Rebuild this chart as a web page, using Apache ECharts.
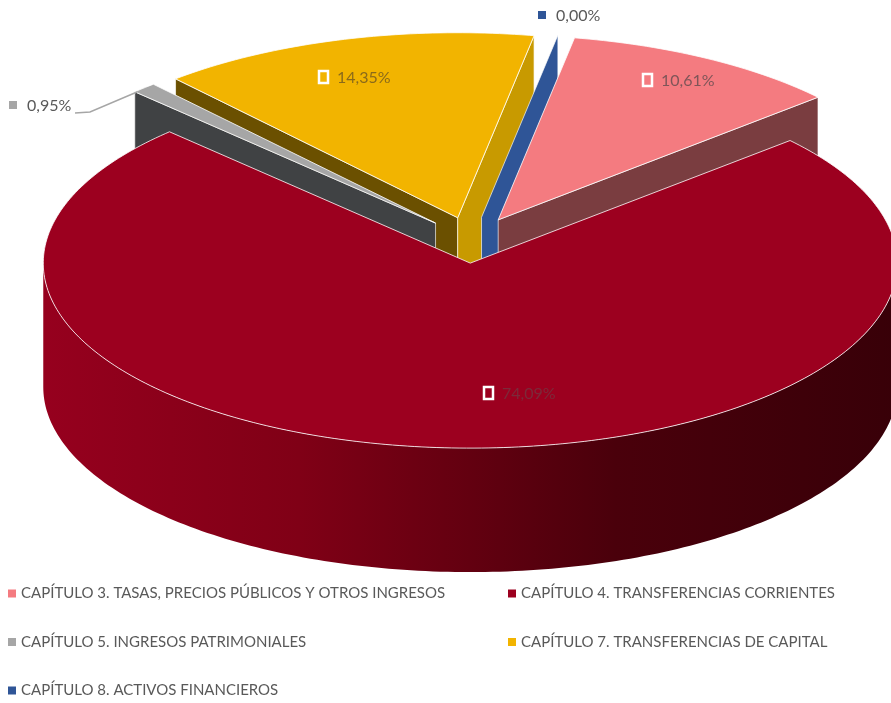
<!DOCTYPE html>
<html>
<head>
<meta charset="utf-8">
<title>Capítulos</title>
<script src="https://cdn.jsdelivr.net/npm/echarts@6/dist/echarts.min.js"></script>
<style>
    html, body { margin: 0; padding: 0; background: #fff; }
    #main { width: 891px; height: 703px; }
</style>
</head>
<body>
<div id="main"></div>
<script>
var categories = [
    'CAPÍTULO 3. TASAS, PRECIOS PÚBLICOS Y OTROS INGRESOS',
    'CAPÍTULO 4. TRANSFERENCIAS CORRIENTES',
    'CAPÍTULO 5. INGRESOS PATRIMONIALES',
    'CAPÍTULO 7. TRANSFERENCIAS DE CAPITAL',
    'CAPÍTULO 8. ACTIVOS FINANCIEROS'
];
var values = [10.61, 74.09, 0.95, 14.35, 0.00];

var topColors = ['#F47B80', '#9C001F', '#A6A6A6', '#F2B400', '#2F5597'];
var wallStart = ['#7A3D40', '#4E0010', '#404244', '#6B5000', '#1F3864'];
var wallEnd = ['#7A3D40', '#4E0010', '#404244', '#C89A00', '#2F5597'];
var labelColors = ['#7F5558', '#7C2A3A', '#595959', '#8A6A1A', '#595959'];
var drawOrder = [3, 2, 4, 0, 1];

// layout of the pie, in pixels
var centerX = 472, centerY = 240;
var radiusX = 427, radiusY = 185, depth = 124, explode = 0.125;
var firstAngle = 10.3;
var labelPos = [[647, 80], [488, 393], [13, 105], [323, 77], [542, 15]];
var labelFont = 'Lato';

function sliceAngles(index) {
    var total = values.reduce(function (a, b) { return a + b; }, 0);
    var start = firstAngle;
    for (var i = 0; i < index; i++) {
        start += values[i] / total * 360;
    }
    return [start, start + values[index] / total * 360];
}

function onEllipse(cx, cy, deg) {
    var r = deg * Math.PI / 180;
    return [cx + radiusX * Math.sin(r), cy - radiusY * Math.cos(r)];
}

function wallFor(apex, rim) {
    return [apex, rim, [rim[0], rim[1] + depth], [apex[0], apex[1] + depth]];
}

function renderSlice(params, api) {
    var index = params.seriesIndex;
    var angles = sliceAngles(index);
    var a = angles[0], b = angles[1];
    var mid = (a + b) / 2 * Math.PI / 180;
    var cx = centerX + radiusX * explode * Math.sin(mid);
    var cy = centerY - radiusY * explode * Math.cos(mid);
    var edgeStyle = { stroke: 'rgba(255,255,255,0.65)', lineWidth: 1 };
    var children = [];

    // outer side, only the front half of the ellipse can be seen
    var from = Math.max(a, 90), to = Math.min(b, 270);
    if (to > from) {
        var front = [], back = [];
        for (var t = from; t <= to; t += 1) {
            var p = onEllipse(cx, cy, t);
            front.push(p);
            back.unshift([p[0], p[1] + depth]);
        }
        children.push({
            type: 'polygon',
            shape: { points: front.concat(back) },
            style: {
                fill: new echarts.graphic.LinearGradient(0, 0, 1, 0, [
                    { offset: 0, color: '#96001E' },
                    { offset: 0.3, color: '#800016' },
                    { offset: 0.67, color: '#4A000B' },
                    { offset: 1, color: '#380008' }
                ])
            }
        });
    }

    var apex = [cx, cy];
    if (Math.sin(a * Math.PI / 180) < 0) {
        children.push({
            type: 'polygon',
            shape: { points: wallFor(apex, onEllipse(cx, cy, a)) },
            style: Object.assign({ fill: wallStart[index] }, edgeStyle)
        });
    }
    if (Math.sin(b * Math.PI / 180) > 0) {
        children.push({
            type: 'polygon',
            shape: { points: wallFor(apex, onEllipse(cx, cy, b)) },
            style: Object.assign({ fill: wallEnd[index] }, edgeStyle)
        });
    }

    // top face
    if (api.value(0) > 0) {
        var pts = [apex];
        for (var s = a; s < b; s += 1) {
            pts.push(onEllipse(cx, cy, s));
        }
        pts.push(onEllipse(cx, cy, b));
        children.push({
            type: 'polygon',
            shape: { points: pts },
            style: { fill: topColors[index], stroke: 'rgba(255,255,255,0.8)', lineWidth: 1 }
        });
    }
    return { type: 'group', children: children };
}

function labelItems() {
    var items = [];
    values.forEach(function (v, i) {
        var pos = labelPos[i];
        var onSlice = i !== 2 && i !== 4;
        items.push({
            type: 'rect',
            z: 20,
            shape: onSlice ? { x: pos[0] - 4, y: pos[1] - 6, width: 9, height: 12 } : { x: pos[0] - 4, y: pos[1] - 4, width: 8, height: 8 },
            style: onSlice ? { fill: topColors[i], stroke: '#fff', lineWidth: 2.5 } : { fill: topColors[i] }
        });
        items.push({
            type: 'text',
            z: 20,
            x: pos[0] + 14,
            y: pos[1] + 1,
            style: {
                text: v.toFixed(2).replace('.', ',') + '%',
                fill: labelColors[i],
                font: '16px "' + labelFont + '"',
                verticalAlign: 'middle'
            }
        });
    });
    return items;
}

var series = categories.map(function (name, i) {
    return {
        name: name,
        type: 'custom',
        coordinateSystem: 'none',
        z: 2 + drawOrder.indexOf(i),
        silent: true,
        itemStyle: { color: topColors[i] },
        renderItem: renderSlice,
        data: [[values[i]]]
    };
});

var option = {
    backgroundColor: '#fff',
    animation: false,
    legend: [
        {
            data: [categories[0], categories[2], categories[4]],
            orient: 'vertical',
            left: 8,
            top: 586,
            height: 117,
            padding: 0,
            itemWidth: 8,
            itemHeight: 8,
            itemGap: 33.5,
            selectedMode: false,
            icon: 'rect',
            textStyle: { color: '#595959', fontFamily: labelFont, fontSize: 15 }
        },
        {
            data: [categories[1], categories[3]],
            orient: 'vertical',
            left: 508,
            top: 586,
            height: 117,
            padding: 0,
            itemWidth: 8,
            itemHeight: 8,
            itemGap: 33.5,
            selectedMode: false,
            icon: 'rect',
            textStyle: { color: '#595959', fontFamily: labelFont, fontSize: 15 }
        }
    ],
    graphic: {
        elements: [
            {
                type: 'polyline',
                z: 20,
                shape: { points: [[75, 113], [90, 112], [137, 92]] },
                style: { stroke: '#A6A6A6', lineWidth: 1.5, fill: null }
            },
            { type: 'group', children: labelItems() }
        ]
    },
    series: series
};

var myChart = echarts.init(document.getElementById('main'));
myChart.setOption(option);
window.addEventListener('resize', function () {
    myChart.resize();
});
</script>
</body>
</html>
